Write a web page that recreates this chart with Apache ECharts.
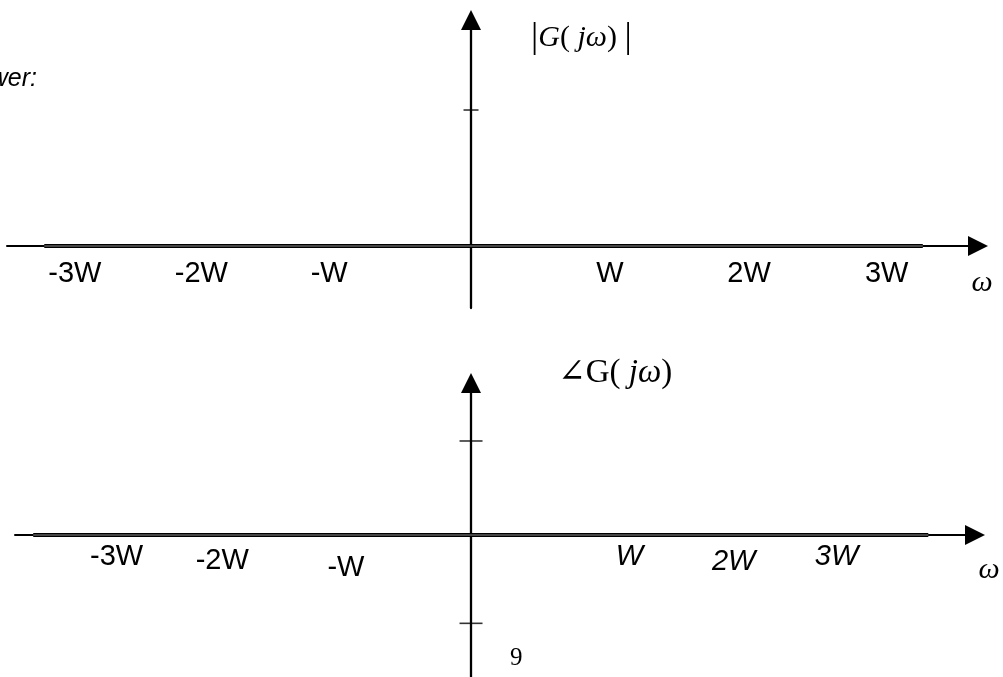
<!DOCTYPE html>
<html><head><meta charset="utf-8">
<script src="https://cdn.jsdelivr.net/npm/echarts@6/dist/echarts.min.js"></script>
<style>html,body{margin:0;padding:0;background:#fff;overflow:hidden}#c{width:1003px;height:677px}</style>
</head><body><div id="c"></div>
<script>
// ---- data (x in units of W, y in tick units) ----
const magTickLabels = ['-3W', '-2W', '-W', 'W', '2W', '3W'];
const magTickPos = [-2.85, -1.94, -1.02, 1.0, 2.0, 2.99];
const phaseTickLabels = ['-3W', '-2W', '-W', 'W', '2W', '3W'];
const phaseTickPos = [-2.55, -1.79, -0.90, 1.14, 1.89, 2.63];
const magCurveX = [-3.07, 3.25];
const magCurveY = [0, 0];
const phaseCurveX = [-3.15, 3.29];
const phaseCurveY = [0, 0];
const magYTicks = [1];
const phaseYTicks = [1, -0.94];

const SANS = '"Liberation Sans", Arial, sans-serif';
const SERIF = '"Liberation Serif", "DejaVu Serif", "Times New Roman", serif';

function nearestIndex(v, pos) {
  let best = 0, d = Infinity;
  pos.forEach((p, i) => { if (Math.abs(p - v) < d) { d = Math.abs(p - v); best = i; } });
  return best;
}
// per-label rich style key (italic / vertical offset) for the phase axis
const phaseStyleKeys = ['n0', 'n1', 'n2', 'i0', 'i1', 'i0'];

const chart = echarts.init(document.getElementById('c'), null, {renderer: 'canvas'});

const axisLineStyleX = {color: '#000', width: 2};
const axisLineStyleY = {color: '#000', width: 2.3};

const option = {
  backgroundColor: '#fff',
  animation: false,
  grid: [
    {left: 7, right: 25, top: 20, bottom: 369, outerBoundsMode: 'none', containLabel: false},
    {left: 15, right: 28, top: 383, bottom: 0, outerBoundsMode: 'none', containLabel: false}
  ],
  xAxis: [
    {
      gridIndex: 0, type: 'value', min: -3.338, max: 3.647, position: 'bottom', offset: -62,
      splitLine: {show: false}, axisTick: {show: false},
      axisLine: {onZero: false, symbol: ['none', 'triangle'], symbolSize: [20, 20], lineStyle: axisLineStyleX},
      axisLabel: {
        show: true, customValues: magTickPos,
        formatter: v => magTickLabels[nearestIndex(v, magTickPos)],
        fontFamily: SANS, fontSize: 29, color: '#000', margin: 13
      },
      name: 'ω', nameLocation: 'end', nameGap: 4, nameMoveOverlap: false,
      nameTextStyle: {fontFamily: SERIF, fontStyle: 'italic', fontSize: 30, color: '#000',
        align: 'center', verticalAlign: 'top', padding: [22, 0, 0, 0]}
    },
    {
      gridIndex: 1, type: 'value', min: -3.281, max: 3.626, position: 'bottom', offset: -142,
      splitLine: {show: false}, axisTick: {show: false},
      axisLine: {onZero: false, symbol: ['none', 'triangle'], symbolSize: [20, 20], lineStyle: axisLineStyleX},
      axisLabel: {
        show: true, customValues: phaseTickPos,
        formatter: v => {
          const k = nearestIndex(v, phaseTickPos);
          return '{' + phaseStyleKeys[k] + '|' + phaseTickLabels[k] + '}';
        },
        fontFamily: SANS, fontSize: 29, color: '#000', margin: 7,
        rich: {
          n0: {fontFamily: SANS, fontSize: 29, color: '#000', padding: [0, 0, 0, 0]},
          n1: {fontFamily: SANS, fontSize: 29, color: '#000', padding: [4, 0, 0, 0]},
          n2: {fontFamily: SANS, fontSize: 29, color: '#000', padding: [11, 0, 0, 0]},
          i0: {fontFamily: SANS, fontSize: 29, fontStyle: 'italic', color: '#000', padding: [0, 0, 0, 0]},
          i1: {fontFamily: SANS, fontSize: 29, fontStyle: 'italic', color: '#000', padding: [5, 0, 0, 0]}
        }
      },
      name: 'ω', nameLocation: 'end', nameGap: 14, nameMoveOverlap: false,
      nameTextStyle: {fontFamily: SERIF, fontStyle: 'italic', fontSize: 30, color: '#000',
        align: 'center', verticalAlign: 'top', padding: [20, 0, 0, 0]}
    }
  ],
  yAxis: [
    {
      gridIndex: 0, type: 'value', min: -0.456, max: 1.662,
      splitLine: {show: false}, axisTick: {show: false}, axisLabel: {show: false},
      axisLine: {onZero: true, symbol: ['none', 'triangle'], symbolSize: [20, 20], lineStyle: axisLineStyleY},
      name: '{bar||}{gi|G}{p|( }{i|jω}{p|) }{bar||}', nameLocation: 'end', nameGap: 0, nameMoveOverlap: false,
      nameTextStyle: {
        align: 'left', verticalAlign: 'top', padding: [0, 0, 0, 60], color: '#000',
        rich: {
          bar: {fontFamily: SERIF, fontSize: 36, color: '#000'},
          gi: {fontFamily: SERIF, fontSize: 30, fontStyle: 'italic', color: '#000'},
          p: {fontFamily: SERIF, fontSize: 30, color: '#000'},
          i: {fontFamily: SERIF, fontSize: 30, fontStyle: 'italic', color: '#000'}
        }
      }
    },
    {
      gridIndex: 1, type: 'value', min: -1.511, max: 1.617,
      splitLine: {show: false}, axisTick: {show: false}, axisLabel: {show: false},
      axisLine: {onZero: true, symbol: ['none', 'triangle'], symbolSize: [20, 20], lineStyle: axisLineStyleY},
      name: '{p|∠G( }{i|jω}{p|)}', nameLocation: 'end', nameGap: -7, nameMoveOverlap: false,
      nameTextStyle: {
        align: 'left', verticalAlign: 'bottom', padding: [0, 0, 0, 87], color: '#000',
        rich: {
          p: {fontFamily: SERIF, fontSize: 33, color: '#000'},
          i: {fontFamily: SERIF, fontSize: 33, fontStyle: 'italic', color: '#000'}
        }
      }
    }
  ],
  series: [
    {type: 'line', xAxisIndex: 0, yAxisIndex: 0, silent: true, symbol: 'none', z: 3,
      data: magCurveX.map((x, i) => [x, magCurveY[i]]), lineStyle: {color: '#000', width: 4}},
    {type: 'line', xAxisIndex: 0, yAxisIndex: 0, silent: true, symbol: 'none', z: 4,
      data: magCurveX.map((x, i) => [x, magCurveY[i]]), lineStyle: {color: '#8c8c8c', width: 1.2}},
    {type: 'line', xAxisIndex: 1, yAxisIndex: 1, silent: true, symbol: 'none', z: 3,
      data: phaseCurveX.map((x, i) => [x, phaseCurveY[i]]), lineStyle: {color: '#000', width: 4}},
    {type: 'line', xAxisIndex: 1, yAxisIndex: 1, silent: true, symbol: 'none', z: 4,
      data: phaseCurveX.map((x, i) => [x, phaseCurveY[i]]), lineStyle: {color: '#8c8c8c', width: 1.2}},
    {type: 'scatter', xAxisIndex: 0, yAxisIndex: 0, silent: true, symbol: 'rect', symbolSize: [15, 1.6], z: 5,
      data: magYTicks.map(v => [0, v]), itemStyle: {color: '#000'}},
    {type: 'scatter', xAxisIndex: 1, yAxisIndex: 1, silent: true, symbol: 'rect', symbolSize: [23, 1.6], z: 5,
      data: phaseYTicks.map(v => [0, v]), itemStyle: {color: '#000'}}
  ],
  graphic: [
    {type: 'text', right: 966, top: 67, style: {text: 'Answer:', font: 'italic 25px ' + SANS, fill: '#000'}},
    {type: 'text', left: 510, top: 646, style: {text: '9', font: '25px ' + SERIF, fill: '#000'}}
  ]
};
chart.setOption(option);
</script>
</body></html>
